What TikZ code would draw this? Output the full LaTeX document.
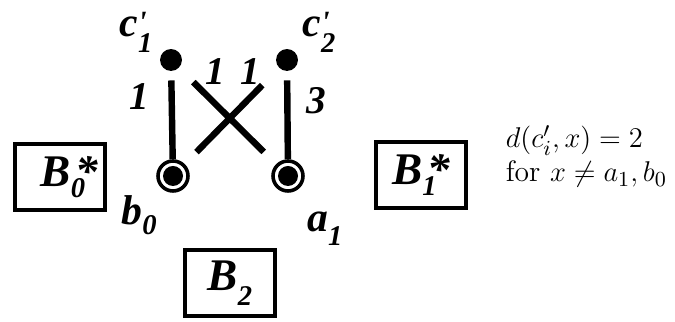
\documentclass[tikz,border=0pt]{standalone}
\usepackage{fontspec}
\usepackage{tikz}
\usetikzlibrary{positioning}
\newfontfamily\labfont{Liberation Serif}
\newcommand{\lsub}[2][5.5pt]{\raisebox{-#1}{\fontsize{12}{12}\selectfont #2}}
\newcommand{\vname}[2]{#1\rlap{\raisebox{1.5pt}{\fontsize{13}{13}\selectfont\textquotesingle}}\lsub[6.7pt]{#2}}
\newcommand{\bname}[2]{B\rlap{\lsub[4.6pt]{#1}}\hspace{2pt}#2}

\begin{document}
\begin{tikzpicture}[x=0.42pt, y=-0.42pt,
    every node/.style={inner sep=1pt, font={\labfont\bfseries\itshape\fontsize{17.5}{17.5}\selectfont}},
    dot/.style={circle, fill, inner sep=0pt, minimum size=9.2pt},
    ring/.style={circle, draw, line width=1.5pt, inner sep=0pt, minimum size=12.6pt,
        path picture={\fill (path picture bounding box.center) circle (4.2pt);}},
    bag/.style={draw, line width=1.7pt, minimum width=37.8pt, minimum height=27.7pt,
        font={\labfont\bfseries\itshape\fontsize{19}{19}\selectfont}},
    wt/.style={font={\labfont\bfseries\itshape\fontsize{16.5}{16.5}\selectfont}},
    edge/.style={line width=2.7pt}]
    \useasboundingbox (0,0) rectangle (675,322);

    % vertices
    \node[dot] (c1) at (171,60) {};
    \node[dot] (c2) at (287,60) {};
    \node[ring] (b0) at (173,176) {};
    \node[ring] (a1) at (288,176) {};

    \node[above left=-1.4pt and 3.2pt of c1] (lc1) {\vname{c}{1}};
    \node[above right=-1.4pt and 2pt of c2] (lc2) {\vname{c}{2}};
    \node[below left=1.9pt and 0.7pt of b0] (lb0) {b\lsub[4.2pt]{0}};
    \node[below right=9pt and 1.9pt of a1] (la1) {a\lsub[5.9pt]{1}};

    % weighted edges
    \draw[edge, shorten <=3.8pt] (c1) -- (b0) node[wt, pos=0.29, left=7pt] (w1) {1};
    \draw[edge, shorten <=3.8pt] (c2) -- (a1) node[wt, pos=0.33, right=5.7pt] (w4) {3};
    \draw[edge, shorten <=8.4pt, shorten >=7.3pt] (c1) -- (a1) node[wt, pos=0.2, xshift=6.9pt, yshift=6.8pt] (w2) {1};
    \draw[edge, shorten <=10pt, shorten >=7pt] (c2) -- (b0) node[wt, pos=0.2, xshift=-4.2pt, yshift=6.8pt] (w3) {1};

    % bags
    \node[bag] (B0) at (60,177) {\hspace{8pt}\bname{0}{*}};
    \node[bag] (B1) at (421,175) {\bname{1}{*}};
    \node[bag] (B2) at (230,283) {B\lsub[6.3pt]{2}};

    \node[font={\fontsize{12.4}{14.3}\selectfont}, align=left, anchor=base west] (note) at (503,182) {$d(c'_i,x)=2$\\for $x\neq a_1,b_0$};
\end{tikzpicture}
\end{document}
